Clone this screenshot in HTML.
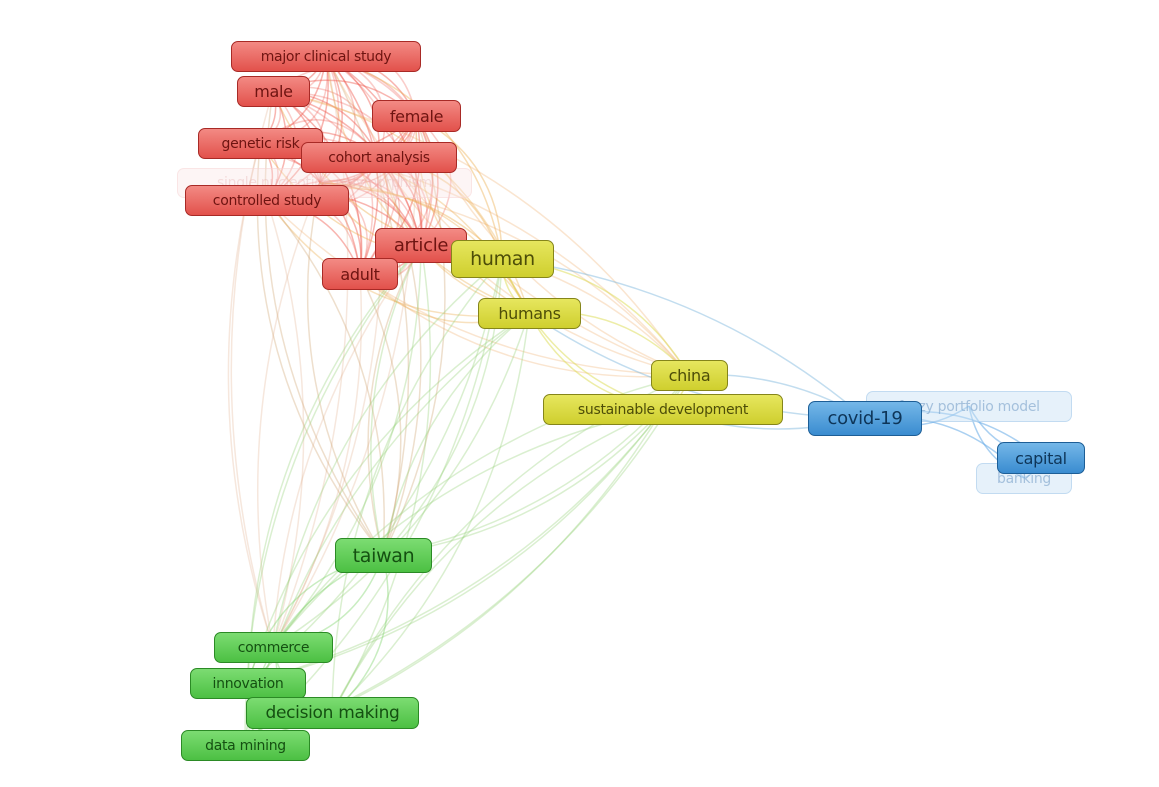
<!DOCTYPE html>
<html><head><meta charset="utf-8">
<style>
body{margin:0;width:1159px;height:787px;background:#fff;overflow:hidden;position:relative;font-family:"DejaVu Sans","Liberation Sans",sans-serif;}
svg{position:absolute;left:0;top:0}
.n{position:absolute;box-sizing:border-box;border-radius:7px;display:flex;align-items:center;justify-content:center;white-space:nowrap;border:1.5px solid;letter-spacing:-0.3px}
.r{background:linear-gradient(#f38a84,#e2514b);border-color:#a82a26;color:#6e1411;}
.y{background:linear-gradient(#e6e65e,#cfcf2e);border-color:#85851a;color:#4d4d08;}
.b{background:linear-gradient(#74b7e8,#3a8cd0);border-color:#1d5e96;color:#0e3558;}
.g{background:linear-gradient(#7cdc72,#4cc043);border-color:#2b8a25;color:#145011;}
.f{background:rgba(200,225,245,.45);border-color:rgba(170,205,235,.6);color:rgba(120,160,200,.6);}
.fr{background:rgba(250,225,225,.35);border-color:rgba(245,205,205,.4);color:rgba(230,180,180,.4);}
</style></head><body>
<svg id="s" width="1159" height="787"></svg>
<div class="n fr" style="left:177px;top:168px;width:295px;height:30px;font-size:14px">single nucleotide polymorphism</div>
<div class="n f" style="left:866px;top:391px;width:206px;height:31px;font-size:14px">fuzzy portfolio model</div>
<div class="n f" style="left:976px;top:463px;width:96px;height:31px;font-size:14px">banking</div>
<div class="n r" style="left:231px;top:41px;width:190px;height:31px;font-size:14px">major clinical study</div>
<div class="n r" style="left:237px;top:76px;width:73px;height:31px;font-size:16px">male</div>
<div class="n r" style="left:372px;top:100px;width:89px;height:32px;font-size:16px">female</div>
<div class="n r" style="left:198px;top:128px;width:125px;height:31px;font-size:14px">genetic risk</div>
<div class="n r" style="left:301px;top:142px;width:156px;height:31px;font-size:14px">cohort analysis</div>
<div class="n r" style="left:185px;top:185px;width:164px;height:31px;font-size:14px">controlled study</div>
<div class="n r" style="left:375px;top:228px;width:92px;height:35px;font-size:18px">article</div>
<div class="n r" style="left:322px;top:258px;width:76px;height:32px;font-size:16px">adult</div>
<div class="n y" style="left:451px;top:240px;width:103px;height:38px;font-size:19px">human</div>
<div class="n y" style="left:478px;top:298px;width:103px;height:31px;font-size:16px">humans</div>
<div class="n y" style="left:651px;top:360px;width:77px;height:31px;font-size:16px">china</div>
<div class="n y" style="left:543px;top:394px;width:240px;height:31px;font-size:14px">sustainable development</div>
<div class="n b" style="left:808px;top:401px;width:114px;height:35px;font-size:18px">covid-19</div>
<div class="n b" style="left:997px;top:442px;width:88px;height:32px;font-size:16px">capital</div>
<div class="n g" style="left:335px;top:538px;width:97px;height:35px;font-size:19px">taiwan</div>
<div class="n g" style="left:214px;top:632px;width:119px;height:31px;font-size:14px">commerce</div>
<div class="n g" style="left:190px;top:668px;width:116px;height:31px;font-size:14px">innovation</div>
<div class="n g" style="left:246px;top:697px;width:173px;height:32px;font-size:17px">decision making</div>
<div class="n g" style="left:181px;top:730px;width:129px;height:31px;font-size:14px">data mining</div>
<script>
var N={mcs:[326,56],male:[273,91],fem:[416,116],gr:[260,143],ca:[379,157],snp:[320,183],cs:[267,200],art:[421,245],ad:[360,274],hum:[502,259],hus:[529,313],ch:[689,375],sd:[663,409],cov:[865,418],fpm:[969,406],cap:[1041,458],bank:[1024,478],tw:[383,555],com:[273,647],inn:[248,683],dm:[332,713],dmi:[245,745]};
var red=["mcs","male","fem","gr","ca","snp","cs","art","ad"];
var E=[];
for(var i=0;i<red.length;i++)for(var j=i+1;j<red.length;j++){E.push([red[i],red[j],"rgba(240,90,80,.45)",.3]);E.push([red[i],red[j],"rgba(240,90,80,.3)",-.5]);}
red.forEach(function(a){E.push([a,"hum","rgba(235,170,70,.4)",.3]);E.push([a,"hus","rgba(235,170,70,.35)",.3]);E.push([a,"tw","rgba(200,150,90,.3)",.2]);E.push([a,"ch","rgba(240,170,100,.3)",.2]);E.push([a,"com","rgba(220,160,120,.25)",.15]);});
["tw","com","inn","dm","dmi"].forEach(function(a){["hum","hus","sd","art","ch"].forEach(function(b){E.push([a,b,"rgba(150,210,120,.35)",.18]);});});
var gr=["tw","com","inn","dm","dmi"];
for(var i=0;i<gr.length;i++)for(var j=i+1;j<gr.length;j++)E.push([gr[i],gr[j],"rgba(120,210,100,.4)",.3]);
["hum","hus","ch","sd"].forEach(function(a){E.push([a,"cov","rgba(120,180,220,.45)",.15]);});
[["hum","ch"],["hum","sd"],["hus","ch"],["hus","sd"],["ch","sd"],["hum","hus"]].forEach(function(p){E.push([p[0],p[1],"rgba(220,220,80,.5)",.25]);});
[["cov","cap"],["cov","fpm"],["cov","bank"],["fpm","cap"],["cap","bank"],["fpm","bank"]].forEach(function(p){E.push([p[0],p[1],"rgba(100,170,230,.55)",.25]);});
var h="";
E.forEach(function(e,k){var a=N[e[0]],b=N[e[1]];var dx=b[0]-a[0],dy=b[1]-a[1];var s=(k%2?1:-1)*e[3];var cx=(a[0]+b[0])/2-dy*s,cy=(a[1]+b[1])/2+dx*s;
h+='<path d="M'+a[0]+' '+a[1]+' Q'+cx+' '+cy+' '+b[0]+' '+b[1]+'" fill="none" stroke="'+e[2]+'" stroke-width="1.5"/>';});
document.getElementById("s").innerHTML=h;
</script>
</body></html>
